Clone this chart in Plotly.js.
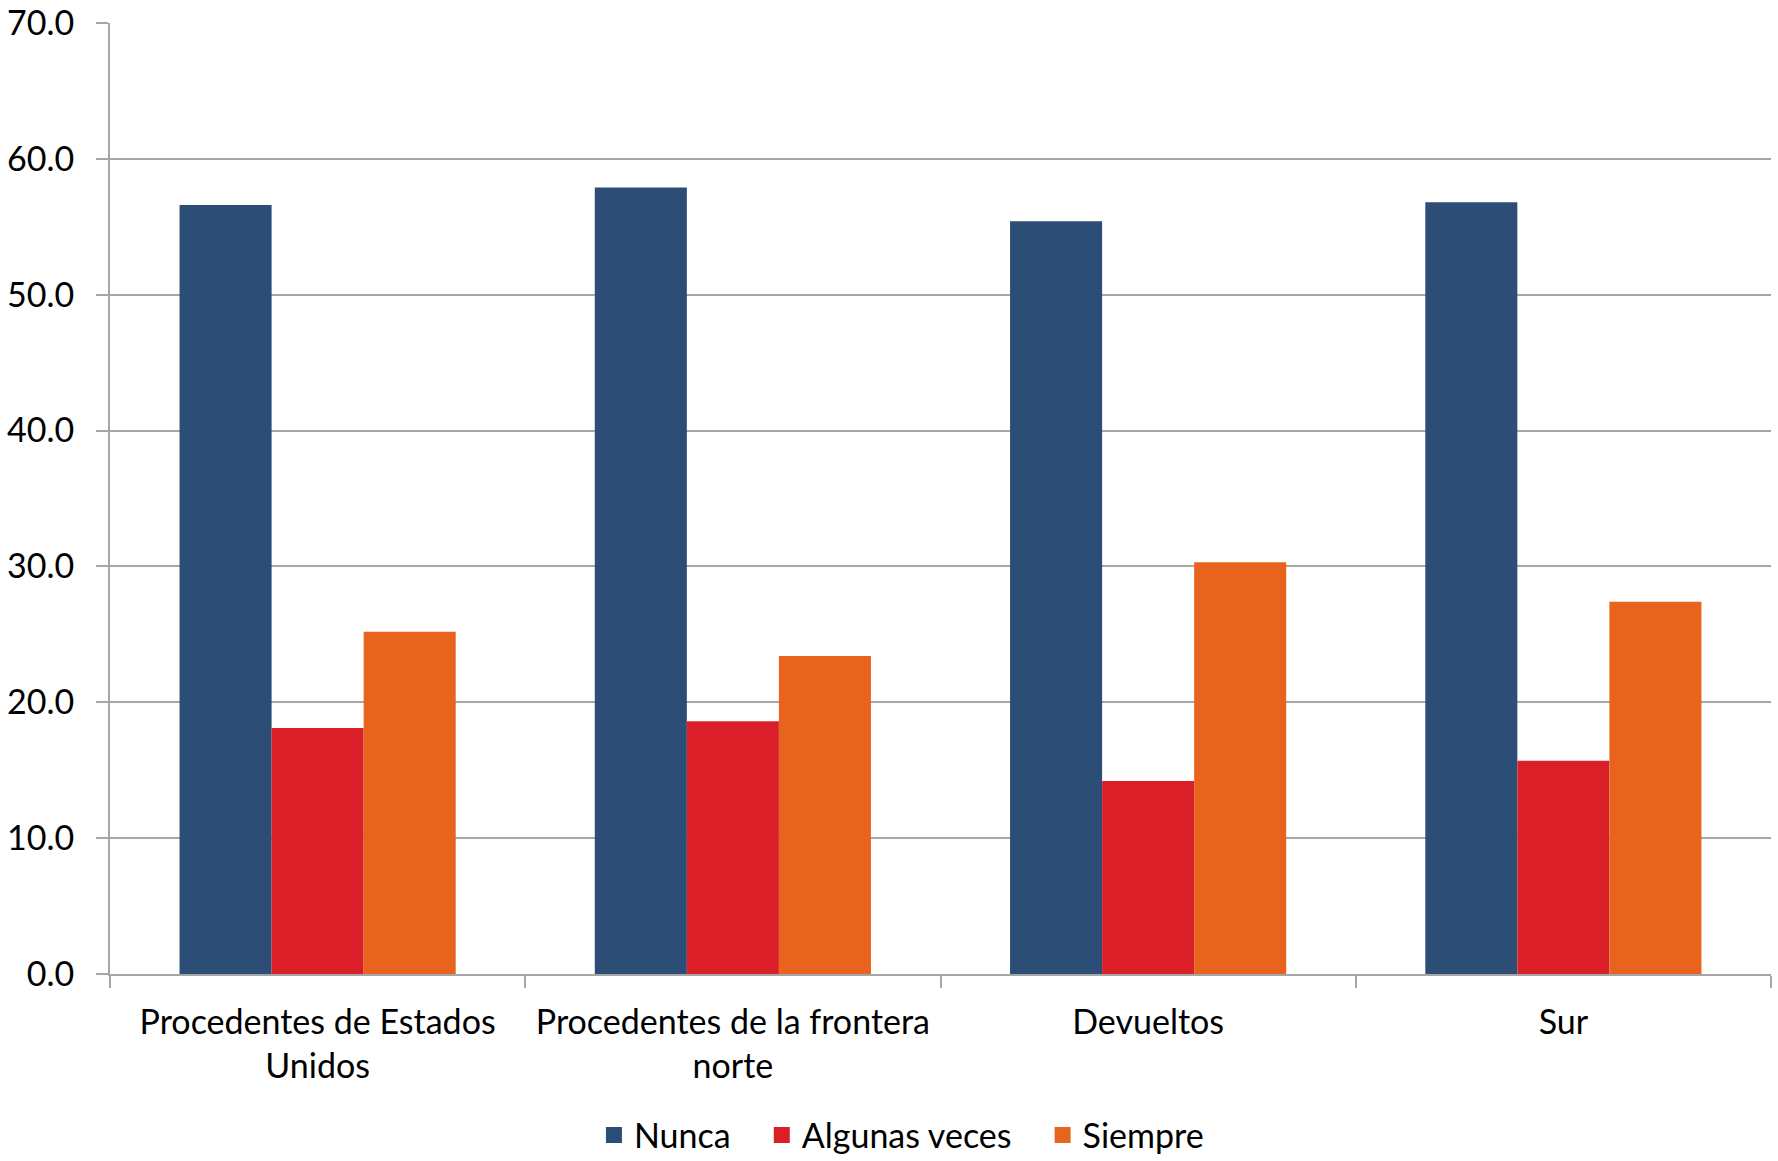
<!DOCTYPE html>
<html>
<head>
<meta charset="utf-8">
<script src="https://cdn.plot.ly/plotly-3.0.1.min.js"></script>
<style>html,body{margin:0;padding:0;background:#fff;}#chart{width:1778px;height:1161px;}</style>
</head>
<body>
<div id="chart"></div>
<script>
const categories = ["Procedentes de Estados<br>Unidos", "Procedentes de la frontera<br>norte", "Devueltos", "Sur"];
const nunca = [56.6, 57.9, 55.4, 56.8];
const algunasVeces = [18.1, 18.6, 14.2, 15.7];
const siempre = [25.2, 23.4, 30.3, 27.4];
const seriesNames = ["Nunca", "Algunas veces", "Siempre"];
const colors = ["#2C4D75", "#DA1F28", "#E8641E"];
const yTicks = [0, 10, 20, 30, 40, 50, 60, 70];

const fontFam = "Lato, 'Open Sans', sans-serif";
const FS = 34;
const series = [nunca, algunasVeces, siempre];
const data = series.map((vals, i) => ({
  type: "bar",
  name: seriesNames[i],
  x: categories,
  y: vals,
  marker: {color: colors[i], line: {width: 0}},
  showlegend: false,
  hoverinfo: "y"
}));
// legend entries with larger square swatches (no data drawn)
const pad = "\u00A0\u00A0\u00A0";
series.forEach((vals, i) => {
  data.push({
    type: "scatter",
    mode: "markers",
    name: seriesNames[i] + (i < series.length - 1 ? pad : ""),
    x: [null], y: [null],
    marker: {symbol: "square", size: 23, color: colors[i]},
    showlegend: true,
    hoverinfo: "skip"
  });
});

const layout = {
  width: 1778, height: 1161,
  margin: {l: 110, r: 7, t: 23, b: 187},
  paper_bgcolor: "#fff", plot_bgcolor: "#fff",
  barmode: "group",
  bargap: 0.335, bargroupgap: 0,
  font: {family: fontFam, size: FS, color: "#000"},
  xaxis: {
    type: "category",
    showgrid: false,
    showline: true, linecolor: "#A6A6A6", linewidth: 2,
    ticks: "outside", tickson: "boundaries", ticklen: 12, tickcolor: "#A6A6A6", tickwidth: 2,
    tickfont: {family: fontFam, size: FS, color: "#000"},
    ticklabelstandoff: 17,
    zeroline: false
  },
  yaxis: {
    range: [0, 70],
    tickvals: yTicks,
    tickformat: ".1f",
    ticklabeloverflow: "allow",
    showgrid: true, gridcolor: "#A6A6A6", gridwidth: 2,
    showline: true, linecolor: "#A6A6A6", linewidth: 2,
    ticks: "outside", ticklen: 12, tickcolor: "#A6A6A6", tickwidth: 2,
    tickfont: {family: fontFam, size: FS, color: "#000"},
    ticklabelstandoff: 15,
    zeroline: false
  },
  legend: {
    orientation: "h",
    xref: "container", yref: "container",
    x: 0.507, xanchor: "center",
    y: 0.022, yanchor: "middle",
    font: {family: fontFam, size: FS, color: "#000"},
    itemwidth: 30
  },
  showlegend: true
};

Plotly.newPlot("chart", data, layout, {displayModeBar: false, staticPlot: true});
</script>
</body>
</html>
